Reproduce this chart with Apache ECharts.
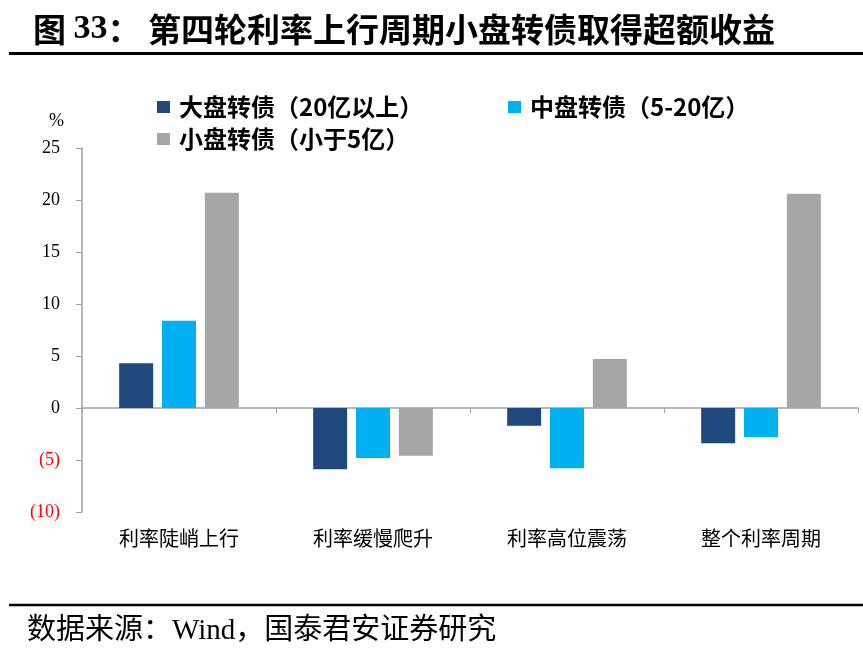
<!DOCTYPE html>
<html>
<head>
<meta charset="utf-8">
<script src="https://cdn.jsdelivr.net/npm/echarts@6/dist/echarts.min.js"></script>
<style>
html,body{margin:0;padding:0;background:#fff;}
#chart{width:863px;height:656px;}
</style>
</head>
<body>
<div id="chart"></div>
<script>
const categories = ['利率陡峭上行', '利率缓慢爬升', '利率高位震荡', '整个利率周期'];
const seriesNames = ['大盘转债（20亿以上）', '中盘转债（5-20亿）', '小盘转债（小于5亿）'];
const largeCap = [4.3, -5.9, -1.7, -3.4];
const midCap = [8.4, -4.8, -5.8, -2.8];
const smallCap = [20.7, -4.6, 4.7, 20.6];
const colors = ['#1F497D', '#00B0F0', '#A6A6A6'];

const chart = echarts.init(document.getElementById('chart'));
const serif = '"Liberation Serif", "Noto Sans CJK SC", serif';
const cjk = '"Noto Sans CJK SC", sans-serif';

function legendAt(name, left, top) {
  return {
    data: [name], left: left, top: top, padding: 0,
    itemWidth: 13, itemHeight: 12, icon: 'rect', selectedMode: false,
    textStyle: { fontFamily: cjk, fontSize: 24, fontWeight: 'bold', color: '#000', padding: [0, 0, 0, 4] }
  };
}

chart.setOption({
  animation: false,
  backgroundColor: '#fff',
  title: {
    text: '{a|图 }{b|33}{a|： 第四轮利率上行周期小盘转债取得超额收益}',
    left: 28, top: 7,
    textStyle: {
      rich: {
        a: { fontFamily: cjk, fontSize: 33, fontWeight: 'bold', color: '#000' },
        b: { fontFamily: '"Liberation Serif", serif', fontSize: 34, fontWeight: 'bold', color: '#000' }
      }
    }
  },
  legend: [
    legendAt(seriesNames[0], 157, 95),
    legendAt(seriesNames[1], 508, 95),
    legendAt(seriesNames[2], 157, 127)
  ],
  grid: { left: 82, right: 5, top: 148, bottom: 144, containLabel: false },
  xAxis: {
    type: 'category',
    data: categories,
    axisLine: { onZero: true, lineStyle: { color: '#A0A0A0', width: 1.5 } },
    axisTick: { show: true, length: 5, lineStyle: { color: '#A0A0A0' } },
    axisLabel: { margin: 16, fontFamily: cjk, fontSize: 20, color: '#000' },
    splitLine: { show: false }
  },
  yAxis: {
    type: 'value',
    min: -10, max: 25, interval: 5,
    name: '%', nameLocation: 'end', nameGap: 18,
    nameTextStyle: { fontFamily: serif, fontSize: 18, color: '#000', align: 'right', padding: [0, 18, 0, 0] },
    axisLine: { show: true, lineStyle: { color: '#A0A0A0', width: 1.5 } },
    axisTick: { show: true, length: 6, lineStyle: { color: '#A0A0A0' } },
    splitLine: { show: false },
    axisLabel: {
      margin: 22,
      fontFamily: serif, fontSize: 18,
      formatter: v => v < 0 ? '(' + (-v) + ')' : String(v),
      color: v => (Number(v) < 0 ? '#FF0000' : '#000')
    }
  },
  series: [
    { name: seriesNames[0], type: 'bar', data: largeCap, barWidth: 34, barGap: '26%', itemStyle: { color: colors[0] } },
    { name: seriesNames[1], type: 'bar', data: midCap, barWidth: 34, barGap: '26%', itemStyle: { color: colors[1] } },
    { name: seriesNames[2], type: 'bar', data: smallCap, barWidth: 34, barGap: '26%', itemStyle: { color: colors[2] } }
  ],
  graphic: [
    { type: 'line', shape: { x1: 9, y1: 53.5, x2: 863, y2: 53.5 }, style: { stroke: '#000', lineWidth: 3 } },
    { type: 'line', shape: { x1: 9, y1: 605, x2: 863, y2: 605 }, style: { stroke: '#000', lineWidth: 2.7 } },
    { type: 'text', left: 27, top: 617, style: { text: '数据来源：Wind，国泰君安证券研究', fontFamily: serif, fontSize: 29, fill: '#000' } }
  ]
});
</script>
</body>
</html>
